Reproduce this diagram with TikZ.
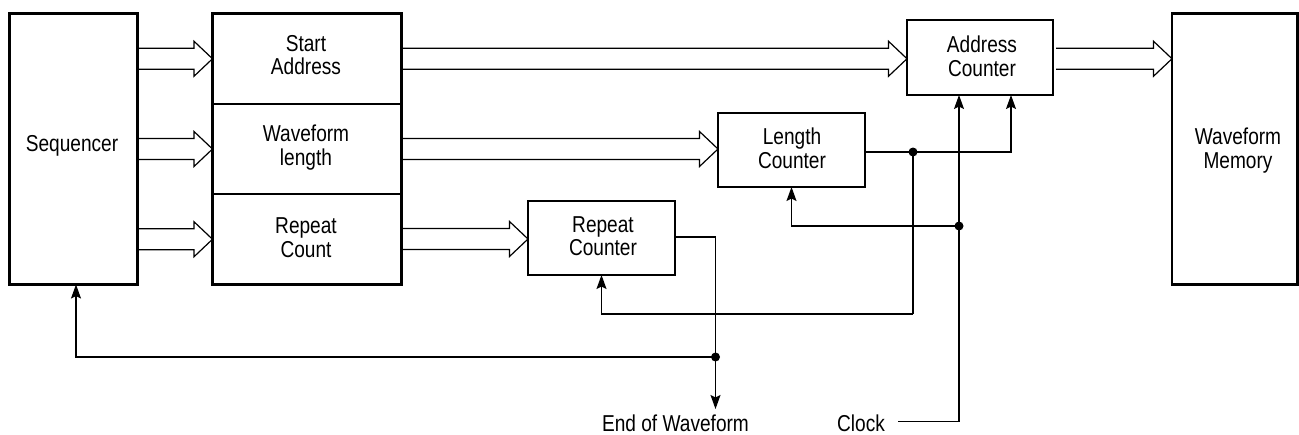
\documentclass[tikz,border=0pt]{standalone}
\usepackage{fontspec}
\setmainfont[FakeStretch=0.83]{Liberation Sans}
\usetikzlibrary{arrows.meta,calc}
\tikzset{
  thickbox/.style={draw, line width=2.5pt, inner sep=0pt, outer sep=0pt},
  regpart/.style={draw, line width=1.2pt, inner sep=0pt, outer sep=0pt, minimum width=189pt},
  wire/.style={line width=1.2pt},
  sig/.style={wire, -{Stealth[length=14pt,width=10pt,inset=2.5pt]}},
  lbl/.style={inner sep=0pt, outer sep=0pt, anchor=base, font=\fontsize{23pt}{24pt}\selectfont},
  jdot/.style={fill, circle, minimum size=9pt, inner sep=0pt}
}
\newcommand\busarrow[2]{%
  \draw[wire, line join=miter] let \p1=(#1), \p2=(#2) in
    (\x1,\y1+10.5pt) -- (\x2-18.5pt,\y1+10.5pt) -- (\x2-18.5pt,\y1+17.5pt) -- (\x2,\y1)
    -- (\x2-18.5pt,\y1-17.5pt) -- (\x2-18.5pt,\y1-10.5pt) -- (\x1,\y1-10.5pt);}
% two-line label: name, x, first baseline, line 1, line 2
\newcommand\twolines[5]{%
  \node[lbl] (#1a) at (#2,#3) {#4};
  \node[lbl] (#1b) at (#2,#3+23.7) {#5};}
\begin{document}
\begin{tikzpicture}[x=1pt,y=-1pt]
\useasboundingbox (0,0) rectangle (1299,434);
% blocks
\node[thickbox, minimum width=128pt, minimum height=271pt] (seq) at (73.5,149) {};
\node[regpart, minimum height=90.5pt] (reg1) at (307,58.75) {};
\node[regpart, minimum height=90pt] (reg2) at (307,149) {};
\node[regpart, minimum height=90.5pt] (reg3) at (307,239.25) {};
\draw[line width=2.5pt] (reg1.north west) rectangle (reg3.south east);
\node[thickbox, minimum width=146pt, minimum height=75pt] (addr) at (980,57.5) {};
\node[thickbox, minimum width=147pt, minimum height=74pt] (len) at (791.5,150) {};
\node[thickbox, minimum width=147pt, minimum height=74pt] (rep) at (601.5,238) {};
\node[thickbox, minimum width=125.5pt, minimum height=271pt] (mem) at (1234.75,149) {};
% texts
\node[lbl] (seqt) at (72,151.3) {Sequencer};
\twolines{regt1}{306}{51}{Start}{Address}
\twolines{regt2}{306}{141.3}{Waveform}{length}
\twolines{regt3}{306}{233.3}{Repeat}{Count}
\twolines{addrt}{982}{52.5}{Address}{Counter}
\twolines{lent}{792}{144.8}{Length}{Counter}
\twolines{rept}{603}{232}{Repeat}{Counter}
\twolines{memt}{1238}{144.5}{Waveform}{Memory}
\node[lbl] (eow) at (675.5,431) {End of Waveform};
\node[lbl] (clk) at (861,431) {Clock};
% junctions
\coordinate (j1) at (913,152);
\coordinate (j2) at (959,226);
\coordinate (j3) at (715.5,357);
\coordinate (c1) at (913,314);
\coordinate (eowtip) at (715.5,409);
\coordinate (clkstart) at (898,421.5);
% buses
\busarrow{seq.east |- reg1.west}{reg1.west}
\busarrow{seq.east |- reg2.west}{reg2.west}
\busarrow{seq.east |- reg3.west}{reg3.west}
\busarrow{reg1.east}{addr.west |- reg1.east}
\busarrow{reg2.east}{len.west |- reg2.east}
\busarrow{reg3.east |- 0,239}{rep.west |- 0,239}
\busarrow{$(addr.east |- reg1.east)+(3,0)$}{mem.west |- reg1.east}
% signals
\draw[wire] (len.east |- j1) -- (j1);
\draw[sig] (j1) -| ([xshift=31pt]addr.south);
\draw[wire] (j1) -- (c1);
\draw[sig] (c1) -| (rep.south);
\draw[sig] ([yshift=1pt]rep.east) -| (eowtip);
\draw[sig] (j3) -| ([xshift=2.5pt]seq.south);
\draw[sig] (clkstart) -| ([xshift=-21pt]addr.south);
\draw[sig] (j2) -| (len.south);
\node[jdot] at (j1) {};
\node[jdot] at (j2) {};
\node[jdot] at (j3) {};
\end{tikzpicture}
\end{document}
